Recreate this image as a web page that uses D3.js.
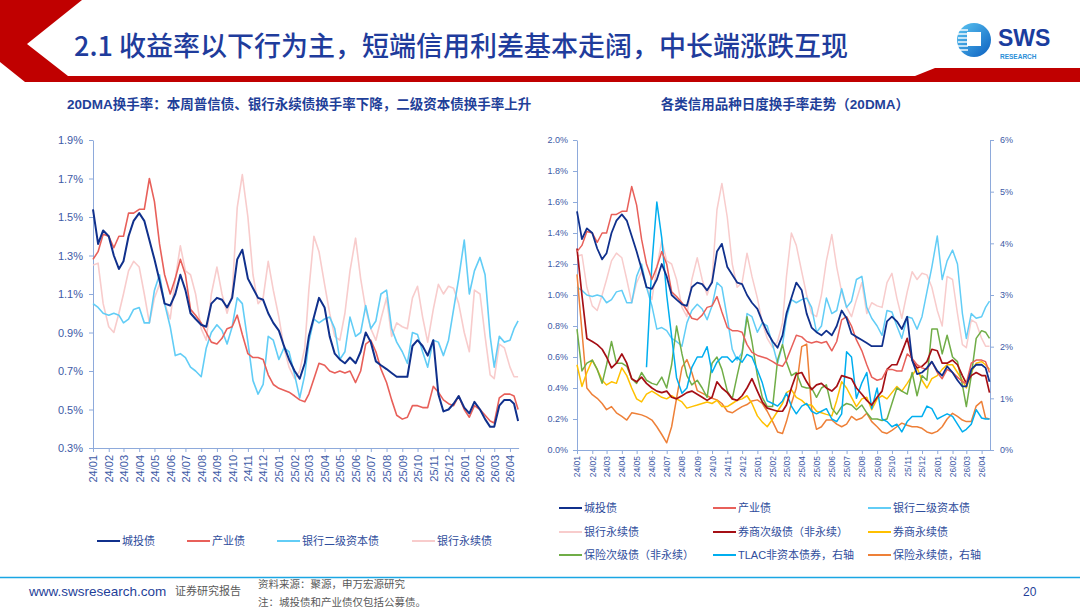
<!DOCTYPE html>
<html>
<head>
<meta charset="utf-8">
<script src="https://cdn.jsdelivr.net/npm/d3@7"></script>
<style>
  body { margin: 0; background: #fff; }
  svg { display: block; font-family: "Liberation Sans", "Noto Sans CJK SC", sans-serif; }
</style>
</head>
<body>
<svg id="slide" width="1080" height="608"></svg>
<script>
// ---- data (~3 samples per month) ----
var monthLabels = ['24/01','24/02','24/03','24/04','24/05','24/06','24/07','24/08','24/09','24/10','24/11','24/12',
  '25/01','25/02','25/03','25/04','25/05','25/06','25/07','25/08','25/09','25/10','25/11','25/12',
  '26/01','26/02','26/03','26/04'];
var sampleDays = [1, 11, 21];
var lastMonthDays = [1, 9, 17];

var chengtou = [1.54,1.36,1.43, 1.40,1.30,1.23, 1.27,1.40,1.48, 1.52,1.48,1.38, 1.28,1.17,1.05, 1.04,1.10,1.20,
  1.12,1.00,0.97, 0.94,0.93,1.05, 1.08,1.07,1.03, 1.08,1.28,1.33, 1.18,1.13,1.08, 1.07,1.00,0.95,
  0.91,0.83,0.76, 0.70,0.66,0.74, 0.88,0.98,1.08, 1.03,0.88,0.79, 0.76,0.74,0.77, 0.74,0.80,0.90,
  0.85,0.75,0.73, 0.71,0.69,0.67, 0.67,0.67,0.83, 0.86,0.83,0.78, 0.86,0.58,0.49, 0.50,0.53,0.57,
  0.51,0.48,0.54, 0.50,0.45,0.41, 0.41,0.52,0.55, 0.55,0.53,0.44];
var chanye = [1.28,1.32,1.41, 1.40,1.34,1.40, 1.40,1.52,1.52, 1.54,1.54,1.70, 1.58,1.36,1.20, 1.10,1.18,1.28,
  1.20,1.02,0.99, 0.95,0.90,0.85, 0.84,0.87,0.92, 0.93,0.99,0.89, 0.79,0.77,0.77, 0.76,0.68,0.63,
  0.61,0.60,0.59, 0.57,0.55,0.54, 0.58,0.66,0.74, 0.73,0.70,0.69, 0.70,0.69,0.70, 0.64,0.70,0.84,
  0.86,0.80,0.71, 0.64,0.55,0.47, 0.45,0.46,0.52, 0.52,0.51,0.51, 0.62,0.59,0.55, 0.53,0.52,0.57,
  0.50,0.46,0.52, 0.50,0.47,0.44, 0.43,0.56,0.58, 0.58,0.57,0.50];
var bankTier2 = [1.05,1.03,1.00, 0.99,1.00,0.99, 0.95,0.97,1.02, 1.03,0.95,0.95, 1.12,1.20,1.05, 0.93,0.78,0.79,
  0.77,0.72,0.70, 0.67,0.82,0.90, 0.94,0.91,0.84, 0.93,1.08,1.05, 0.85,0.65,0.58, 0.63,0.88,0.86,
  0.76,0.82,0.80, 0.68,0.56,0.68, 0.85,0.97,0.95, 0.97,0.98,0.92, 0.76,0.80,0.98, 0.88,0.90,1.04,
  0.92,0.96,1.10, 1.12,0.92,0.85, 0.80,0.74,0.90, 0.89,0.80,0.72, 0.86,0.85,0.78, 0.86,1.02,1.18,
  1.38,1.10,1.22, 1.29,1.20,0.88, 0.72,0.88,0.85, 0.86,0.92,0.96];
var bankPerp = [1.25,1.26,1.05, 0.93,0.90,1.00, 1.10,1.22,1.27, 1.24,1.10,0.95, 1.08,1.15,1.05, 0.97,1.18,1.35,
  1.22,1.20,1.10, 0.92,0.86,1.10, 1.24,1.10,1.00, 1.10,1.55,1.72, 1.50,1.20,1.05, 1.08,1.27,1.12,
  0.98,0.82,0.72, 0.66,0.70,0.82, 1.12,1.40,1.32, 1.15,1.00,0.88, 0.86,1.00,1.22, 1.39,1.18,1.02,
  0.92,0.86,0.97, 1.08,0.88,0.95, 0.93,0.92,1.08, 1.14,0.98,0.85, 1.02,1.15,1.10, 1.14,1.13,1.05,
  0.90,0.80,1.12, 1.10,0.88,0.68, 0.66,0.84,0.82, 0.72,0.67,0.67];
var brokerSub = [1.30,1.00,0.72, 0.70,0.68,0.65, 0.60,0.53,0.56, 0.62,0.56,0.46, 0.44,0.47,0.43, 0.40,0.38,0.37,
  0.38,0.34,0.33, 0.35,0.37,0.38, 0.36,0.34,0.32, 0.34,0.44,0.40, 0.37,0.33,0.32, 0.35,0.40,0.46,
  0.38,0.31,0.27, 0.26,0.25,0.25, 0.29,0.40,0.49, 0.50,0.44,0.39, 0.42,0.43,0.40, 0.38,0.41,0.48,
  0.47,0.46,0.40, 0.36,0.32,0.29, 0.34,0.38,0.52, 0.55,0.55,0.63, 0.72,0.58,0.53, 0.54,0.57,0.65,
  0.64,0.56,0.56, 0.58,0.55,0.48, 0.43,0.48,0.50, 0.48,0.48,0.37];
var brokerPerp = [0.55,0.41,0.50, 0.58,0.52,0.45, 0.42,0.44,0.43, 0.53,0.48,0.40, 0.33,0.31,0.36, 0.38,0.36,0.34,
  0.33,0.35,0.33, 0.31,0.27,0.28, 0.29,0.30,0.31, 0.30,0.32,0.28, 0.28,0.30,0.32, 0.33,0.35,0.30,
  0.22,0.18,0.15, 0.20,0.25,0.30, 0.37,0.39,0.34, 0.32,0.29,0.29, 0.25,0.24,0.23, 0.22,0.32,0.44,
  0.40,0.34,0.28, 0.33,0.34,0.26, 0.33,0.35,0.33, 0.37,0.41,0.38, 0.43,0.48,0.53, 0.45,0.40,0.46,
  0.48,0.52,0.55, 0.55,0.50,0.45, 0.40,0.50,0.56, 0.57,0.55,0.52];
var insurSub = [0.78,0.51,0.56, 0.58,0.52,0.43, 0.55,0.70,0.56, 0.56,0.54,0.46, 0.43,0.50,0.45, 0.43,0.42,0.47,
  0.40,0.55,0.80, 0.62,0.48,0.42, 0.45,0.40,0.34, 0.56,0.60,0.52, 0.38,0.33,0.48, 0.62,0.86,0.70,
  0.48,0.34,0.28, 0.28,0.58,0.68, 0.57,0.48,0.50, 0.41,0.40,0.40, 0.34,0.40,0.42, 0.27,0.23,0.28,
  0.30,0.29,0.26, 0.29,0.24,0.20, 0.20,0.19,0.20, 0.30,0.40,0.38, 0.36,0.50,0.35, 0.48,0.45,0.78,
  0.78,0.62,0.74, 0.60,0.57,0.42, 0.28,0.48,0.72, 0.77,0.76,0.72];
// right axis series
var tlac = [null,null,null, null,null,null, null,null,null, null,null,null, null,null,1.6, 3.6,4.8,4.1,
  3.0,2.2,1.4, 1.1,1.2,1.6, 1.8,1.8,2.0, 1.5,1.7,1.8, 1.8,1.7,1.8, 1.7,1.85,1.8,
  1.55,1.3,0.95, 0.9,0.85,0.95, 1.1,0.85,0.7, 0.85,0.9,0.75, 0.7,0.75,0.8, 0.6,0.55,0.7,
  1.9,1.8,1.0, 1.3,1.5,0.8, 1.2,0.6,0.55, 0.45,0.5,0.35, 0.55,0.65,0.65, 0.65,0.85,0.8,
  0.6,0.65,0.7, 0.65,0.5,0.35, 0.4,0.5,0.78, 0.62,0.6,0.6];
var insurPerp = [3.4,2.3,1.2, 1.07,1.0,0.9, 0.78,0.84,0.72, 0.65,0.58,0.72, 0.70,0.68,0.64, 0.58,0.45,0.30,
  0.14,0.45,1.0, 1.6,1.75,1.5, 1.15,1.1,1.05, 1.0,0.97,0.9, 0.75,0.72,0.78, 0.84,0.88,0.95,
  0.97,0.9,0.75, 0.55,0.35,0.32, 0.55,0.9,1.2, 2.0,2.05,0.8, 0.4,0.45,0.58, 0.58,0.5,0.45,
  0.5,0.65,0.58, 0.62,0.71,0.55, 0.45,0.35,0.32, 0.38,0.45,0.52, 0.48,0.45,0.45, 0.42,0.35,0.32,
  0.36,0.45,0.6, 0.71,0.65,0.58, 0.55,0.55,0.85, 0.94,0.62,0.6];

var leftTicks = [0.3, 0.5, 0.7, 0.9, 1.1, 1.3, 1.5, 1.7, 1.9];
var rightTicks = [0, 0.2, 0.4, 0.6, 0.8, 1.0, 1.2, 1.4, 1.6, 1.8, 2.0];
var rightTicks2 = [0, 1, 2, 3, 4, 5, 6];

// build dates for the samples
var dates = [];
var monthDates = monthLabels.map(function(m, i) {
  var yr = 2000 + (+m.slice(0, 2)), mo = +m.slice(3) - 1;
  var days = i === monthLabels.length - 1 ? lastMonthDays : sampleDays;
  days.forEach(function(d) { dates.push(new Date(yr, mo, d)); });
  return new Date(yr, mo, 1);
});

var svg = d3.select('#slide');
var blueText = '#1f3f99';
var axisColor = '#8eaadb';
var tickText = '#3d5aa6';

// ---- header ----
svg.append('rect').attr('width', 1080).attr('height', 608).attr('fill', '#fff');
svg.append('path')
  .attr('d', 'M0,0 L82,0 L27,44 L68,76 L915,76 L935,68 L1080,68 L1080,82 L25,82 L0,62 Z')
  .attr('fill', '#c00000');
svg.append('text')
  .attr('x', 74).attr('y', 56)
  .style('font-family', '"Noto Sans CJK SC", sans-serif')
  .style('font-size', '27px').style('font-weight', 500)
  .attr('fill', '#1f3c9c')
  .text('2.1 收益率以下行为主，短端信用利差基本走阔，中长端涨跌互现');

// logo
var defs = svg.append('defs');
var lg = defs.append('linearGradient').attr('id', 'logoGrad').attr('x1', 0).attr('y1', 0).attr('x2', 1).attr('y2', 1);
lg.append('stop').attr('offset', '0%').attr('stop-color', '#5cc6f2');
lg.append('stop').attr('offset', '100%').attr('stop-color', '#0b5fc0');
var logo = svg.append('g');
logo.append('circle').attr('cx', 974).attr('cy', 40).attr('r', 17).attr('fill', 'url(#logoGrad)');
[30, 34, 38, 42, 46, 50].forEach(function(yy) {
  logo.append('line').attr('x1', 958).attr('x2', 968).attr('y1', yy).attr('y2', yy)
    .attr('stroke', '#fff').attr('stroke-width', 1.4);
});
logo.append('rect').attr('x', 967).attr('y', 32).attr('width', 14).attr('height', 14).attr('fill', '#fff');
logo.append('text').attr('x', 998).attr('y', 46)
  .style('font-size', '23px').style('font-weight', 'bold').attr('fill', '#1a3d9e').text('SWS');
logo.append('text').attr('x', 1000).attr('y', 59)
  .style('font-size', '6.5px').style('font-weight', 'bold').attr('fill', '#2b8fd8').text('RESEARCH');

// subtitles
svg.append('text').attr('x', 67).attr('y', 109)
  .style('font-size', '13.5px').style('font-weight', 'bold').attr('fill', blueText)
  .text('20DMA换手率：本周普信债、银行永续债换手率下降，二级资本债换手率上升');
svg.append('text').attr('x', 785).attr('y', 109).attr('text-anchor', 'middle')
  .style('font-size', '13.5px').style('font-weight', 'bold').attr('fill', blueText)
  .text('各类信用品种日度换手率走势（20DMA）');

// ---- helpers ----
function styleAxis(g) {
  g.select('.domain').attr('stroke', axisColor);
  g.selectAll('.tick line').attr('stroke', axisColor);
  g.selectAll('.tick text').attr('fill', tickText);
}
function drawLine(g, x, y, values, color, width) {
  var line = d3.line()
    .defined(function(d) { return d != null; })
    .x(function(d, i) { return x(dates[i]); })
    .y(function(d) { return y(d); });
  g.append('path').datum(values)
    .attr('fill', 'none').attr('stroke', color).attr('stroke-width', width)
    .attr('stroke-linejoin', 'round').attr('d', line);
}
function drawLegend(g, items) {
  items.forEach(function(it) {
    g.append('line').attr('x1', it.x).attr('x2', it.x + 23).attr('y1', it.y).attr('y2', it.y)
      .attr('stroke', it.color).attr('stroke-width', 2);
    g.append('text').attr('x', it.x + 25).attr('y', it.y).attr('dy', '0.35em')
      .style('font-size', '11px').attr('fill', '#2f4d9c').text(it.name);
  });
}

var tStart = new Date(2024, 0, 1), tEnd = new Date(2026, 3, 18);

// ---- left chart ----
var xL = d3.scaleTime().domain([tStart, tEnd]).range([93, 518.6]);
var yL = d3.scaleLinear().domain([0.3, 1.9]).range([448, 140]);
var left = svg.append('g');

var yAxisL = left.append('g').attr('transform', 'translate(93,0)')
  .call(d3.axisLeft(yL).tickValues(leftTicks).tickSize(4).tickSizeOuter(0).tickPadding(6)
    .tickFormat(function(d) { return d.toFixed(1) + '%'; }));
yAxisL.selectAll('text').style('font-size', '11px');
styleAxis(yAxisL);

var xAxisL = left.append('g').attr('transform', 'translate(0,448)')
  .call(d3.axisBottom(xL).tickValues(monthDates).tickSize(4).tickSizeOuter(0)
    .tickFormat(function(d, i) { return monthLabels[i]; }));
xAxisL.selectAll('text').style('font-size', '11px')
  .attr('transform', 'rotate(-90)').attr('text-anchor', 'end')
  .attr('x', -7).attr('y', 0).attr('dy', '0.35em');
styleAxis(xAxisL);

drawLine(left, xL, yL, bankPerp, '#f8cccc', 1.6);
drawLine(left, xL, yL, bankTier2, '#62cdf6', 1.6);
drawLine(left, xL, yL, chanye, '#e8605a', 1.6);
drawLine(left, xL, yL, chengtou, '#10308c', 2);

drawLegend(left, [
  { name: '城投债', color: '#10308c', x: 97, y: 541 },
  { name: '产业债', color: '#e8605a', x: 187, y: 541 },
  { name: '银行二级资本债', color: '#62cdf6', x: 277, y: 541 },
  { name: '银行永续债', color: '#f8cccc', x: 412, y: 541 }
]);

// ---- right chart ----
var xR = d3.scaleTime().domain([tStart, tEnd]).range([577, 990]);
var yR = d3.scaleLinear().domain([0, 2.0]).range([450, 140]);
var yR2 = d3.scaleLinear().domain([0, 6]).range([450, 140]);
var right = svg.append('g');

var yAxisR = right.append('g').attr('transform', 'translate(577,0)')
  .call(d3.axisLeft(yR).tickValues(rightTicks).tickSize(4).tickSizeOuter(0).tickPadding(5)
    .tickFormat(function(d) { return d.toFixed(1) + '%'; }));
yAxisR.selectAll('text').style('font-size', '9px');
styleAxis(yAxisR);

var yAxisR2 = right.append('g').attr('transform', 'translate(990,0)')
  .call(d3.axisRight(yR2).tickValues(rightTicks2).tickSize(4).tickSizeOuter(0).tickPadding(6)
    .tickFormat(function(d) { return d + '%'; }));
yAxisR2.selectAll('text').style('font-size', '9px');
styleAxis(yAxisR2);

var xAxisR = right.append('g').attr('transform', 'translate(0,450)')
  .call(d3.axisBottom(xR).tickValues(monthDates).tickSize(4).tickSizeOuter(0)
    .tickFormat(function(d, i) { return monthLabels[i]; }));
xAxisR.selectAll('text').style('font-size', '8.5px')
  .attr('transform', 'rotate(-90)').attr('text-anchor', 'end')
  .attr('x', -6).attr('y', 0).attr('dy', '0.35em');
styleAxis(xAxisR);

drawLine(right, xR, yR, bankPerp, '#f8cccc', 1.5);
drawLine(right, xR, yR, bankTier2, '#62cdf6', 1.5);
drawLine(right, xR, yR2, insurPerp, '#ee8038', 1.5);
drawLine(right, xR, yR, brokerPerp, '#ffc000', 1.5);
drawLine(right, xR, yR, insurSub, '#70ad47', 1.5);
drawLine(right, xR, yR2, tlac, '#00aeef', 1.5);
drawLine(right, xR, yR, brokerSub, '#a50f15', 1.7);
drawLine(right, xR, yR, chanye, '#e8605a', 1.5);
drawLine(right, xR, yR, chengtou, '#10308c', 1.8);

drawLegend(right, [
  { name: '城投债', color: '#10308c', x: 559, y: 508 },
  { name: '产业债', color: '#e8605a', x: 713, y: 508 },
  { name: '银行二级资本债', color: '#62cdf6', x: 868, y: 508 },
  { name: '银行永续债', color: '#f8cccc', x: 559, y: 532 },
  { name: '券商次级债（非永续）', color: '#a50f15', x: 713, y: 532 },
  { name: '券商永续债', color: '#ffc000', x: 868, y: 532 },
  { name: '保险次级债（非永续）', color: '#70ad47', x: 559, y: 555 },
  { name: 'TLAC非资本债券，右轴', color: '#00aeef', x: 713, y: 555 },
  { name: '保险永续债，右轴', color: '#ee8038', x: 868, y: 555 }
]);

// ---- footer ----
svg.append('line').attr('x1', 0).attr('x2', 1080).attr('y1', 577.5).attr('y2', 577.5)
  .attr('stroke', '#1aa6e4').attr('stroke-width', 1.5);
svg.append('text').attr('x', 29).attr('y', 596)
  .style('font-size', '13.5px').attr('fill', blueText).text('www.swsresearch.com');
svg.append('text').attr('x', 175).attr('y', 595)
  .style('font-size', '11px').attr('fill', '#595959').text('证券研究报告');
svg.append('text').attr('x', 258).attr('y', 588)
  .style('font-size', '10.5px').attr('fill', '#595959').text('资料来源：聚源，申万宏源研究');
svg.append('text').attr('x', 258).attr('y', 606)
  .style('font-size', '10.5px').attr('fill', '#595959').text('注：城投债和产业债仅包括公募债。');
svg.append('text').attr('x', 1023).attr('y', 596)
  .style('font-size', '12px').attr('fill', blueText).text('20');
</script>
</body>
</html>
